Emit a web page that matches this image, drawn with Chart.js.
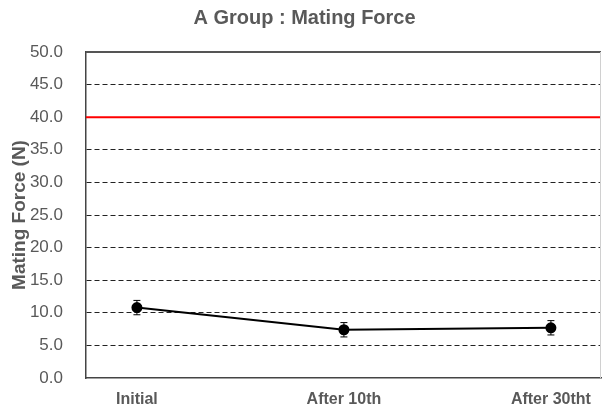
<!DOCTYPE html>
<html>
<head>
<meta charset="utf-8">
<script src="https://cdn.jsdelivr.net/npm/chart.js@4.4.1/dist/chart.umd.min.js"></script>
<style>
  html, body { margin: 0; padding: 0; background: #ffffff; }
  #wrap { width: 602px; height: 419px; position: relative; }
</style>
</head>
<body>
<div id="wrap"><canvas id="c"></canvas></div>
<script>
// ---- data ----
const categories = ['Initial', 'After 10th', 'After 30tht'];
const meanForce = [10.8, 7.4, 7.7];
const errorForce = [1.1, 1.1, 1.1];
const thresholdForce = 40;
const yTicks = [0, 5, 10, 15, 20, 25, 30, 35, 40, 45, 50];
const chartTitle = 'A Group : Mating Force';
const yTitle = 'Mating Force (N)';

const X_MIN = -0.246, X_MAX = 2.242;
const GRAY = '#595959';
const FONT = "'Liberation Sans Narrow', 'Liberation Sans', Arial, sans-serif";

const errorBarPlugin = {
  id: 'errorBars',
  afterDatasetsDraw(chart) {
    const ctx = chart.ctx;
    const xs = chart.scales.x, ys = chart.scales.y;
    ctx.save();
    ctx.strokeStyle = '#000';
    ctx.lineWidth = 1;
    meanForce.forEach((v, i) => {
      const x = xs.getPixelForValue(i);
      const yt = ys.getPixelForValue(v + errorForce[i]);
      const yb = ys.getPixelForValue(v - errorForce[i]);
      ctx.beginPath();
      ctx.moveTo(x, yt); ctx.lineTo(x, yb);
      ctx.moveTo(x - 3.5, yt); ctx.lineTo(x + 3.5, yt);
      ctx.moveTo(x - 3.5, yb); ctx.lineTo(x + 3.5, yb);
      ctx.stroke();
    });
    ctx.restore();
  }
};

const framePlugin = {
  id: 'frame',
  afterDraw(chart) {
    const a = chart.chartArea, ctx = chart.ctx;
    ctx.save();
    ctx.strokeStyle = '#555';
    ctx.lineWidth = 2;
    ctx.beginPath();
    ctx.moveTo(a.left, a.top); ctx.lineTo(a.right, a.top);
    ctx.stroke();
    ctx.strokeStyle = '#d0d0d0';
    ctx.lineWidth = 1;
    ctx.beginPath();
    ctx.moveTo(a.right - 0.5, a.top); ctx.lineTo(a.right - 0.5, a.bottom);
    ctx.stroke();
    ctx.restore();
  }
};

new Chart(document.getElementById('c'), {
  type: 'line',
  data: {
    datasets: [
      {
        label: 'threshold',
        data: [{x: X_MIN, y: thresholdForce}, {x: X_MAX, y: thresholdForce}],
        borderColor: '#ff0000',
        borderWidth: 2,
        pointRadius: 0,
        order: 2
      },
      {
        label: 'Mating Force',
        data: meanForce.map((v, i) => ({x: i, y: v})),
        borderColor: '#000',
        backgroundColor: '#000',
        borderWidth: 2,
        pointRadius: 4.5,
        pointBackgroundColor: '#000',
        pointBorderColor: '#000',
        tension: 0,
        order: 1
      }
    ]
  },
  options: {
    responsive: true,
    maintainAspectRatio: false,
    animation: false,
    layout: { autoPadding: false, padding: { left: 8, right: 1, top: 0, bottom: 0 } },
    plugins: {
      legend: { display: false },
      tooltip: { enabled: false },
      title: {
        display: true,
        text: chartTitle,
        color: GRAY,
        font: { family: FONT, size: 20, weight: 'bold' },
        padding: { top: 6, bottom: 22 }
      }
    },
    scales: {
      x: {
        type: 'linear',
        min: X_MIN,
        max: X_MAX,
        afterBuildTicks(scale) { scale.ticks = categories.map((c, i) => ({ value: i })); },
        afterFit(scale) { scale.height = 41; scale.paddingRight = 0; scale.paddingLeft = 0; },
        ticks: {
          callback: (v) => categories[v],
          color: GRAY,
          font: { family: FONT, size: 16, weight: 'bold' },
          padding: 12,
          maxRotation: 0,
          autoSkip: false
        },
        grid: { display: false, drawTicks: false },
        border: { display: true, color: '#444', width: 1.5 }
      },
      y: {
        min: 0,
        max: 50,
        afterBuildTicks(scale) { scale.ticks = yTicks.map(v => ({ value: v })); },
        afterFit(scale) { scale.width = 78; },
        ticks: {
          callback: (v) => v.toFixed(1),
          color: GRAY,
          font: { family: FONT, size: 17 },
          padding: 23
        },
        title: {
          display: true,
          text: yTitle,
          color: GRAY,
          font: { family: FONT, size: 19, weight: 'bold' },
          padding: { top: 0, bottom: 0 }
        },
        grid: {
          drawTicks: false,
          color: (ctx) => (ctx.tick && (ctx.tick.value === 0 || ctx.tick.value === 40 || ctx.tick.value === 50)) ? 'rgba(0,0,0,0)' : '#222',
          lineWidth: 1
        },
        border: { display: true, color: '#444', width: 1.5, dash: [5, 3] }
      }
    }
  },
  plugins: [errorBarPlugin, framePlugin]
});
</script>
</body>
</html>
